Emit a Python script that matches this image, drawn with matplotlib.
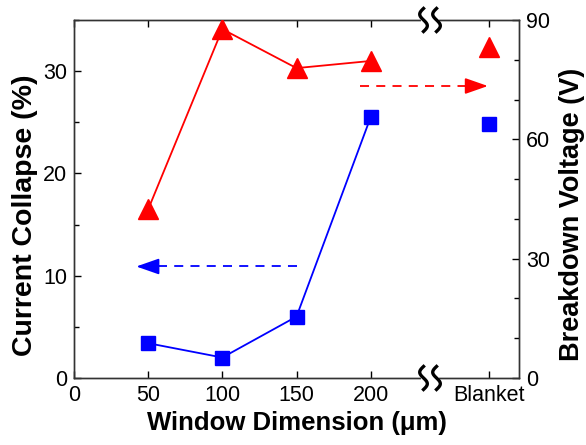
import numpy as np
import matplotlib.pyplot as plt
from matplotlib.transforms import IdentityTransform
from matplotlib.ticker import MultipleLocator

plt.rcParams['font.family'] = ['Liberation Sans', 'DejaVu Sans']

# data
x_pos = [50, 100, 150, 200, 280]
x_labels = ['50', '100', '150', '200', 'Blanket']
collapse = [3.4, 2.0, 6.0, 25.5, 24.8]        # %, left axis
breakdown = [42.4, 87.7, 77.9, 79.7, 83.2]    # V, right axis
n_line = 4  # first four points are joined, Blanket stands alone

# arrows pointing to each axis
blue_arrow = [(150, 10.9), (42, 10.9)]
red_arrow = [(193, 73.4), (279, 73.4)]
x_break = 240

fig = plt.figure(figsize=(5.86, 4.45), dpi=100)
ax = fig.add_axes([0.1263, 0.1506, 0.7594, 0.8045])
ax2 = ax.twinx()

# current collapse (blue squares)
ax.plot(x_pos[:n_line], collapse[:n_line], color='blue', lw=1.3, zorder=3)
ax.plot(x_pos, collapse, 's', color='blue', ms=10.5, lw=0, zorder=4)

# breakdown voltage (red triangles)
ax2.plot(x_pos[:n_line], breakdown[:n_line], color='red', lw=1.3, zorder=3)
ax2.plot(x_pos, breakdown, '^', color='red', ms=14, lw=0, zorder=4)

def dashed_arrow(axis, pts, col):
    (x0, y0), (x1, y1) = pts
    head = 10 if x1 > x0 else -10
    axis.plot([x0, x1 - head], [y0, y1], '--', color=col, lw=1.3, dashes=(5, 4))
    axis.annotate('', xy=(x1, y1), xytext=(x1 - head, y1),
                  arrowprops=dict(arrowstyle='-|>,head_length=1.0,head_width=0.35',
                                  color=col, lw=1.3, mutation_scale=14,
                                  shrinkA=0, shrinkB=0))

dashed_arrow(ax, blue_arrow, 'blue')
dashed_arrow(ax2, red_arrow, 'red')

ax.set_xlim(0, 300)
ax.set_ylim(0, 35)
ax2.set_ylim(0, 90)

ax.set_xticks([0] + x_pos)
ax.set_xticklabels(['0'] + x_labels)
ax.yaxis.set_major_locator(MultipleLocator(10))
ax.yaxis.set_minor_locator(MultipleLocator(5))
ax2.yaxis.set_major_locator(MultipleLocator(30))
ax2.yaxis.set_minor_locator(MultipleLocator(10))

ax.tick_params(axis='x', which='both', direction='in', top=True, length=5,
               width=1, labelsize=15.5, pad=5)
ax.tick_params(axis='y', which='major', direction='in', length=5, width=1,
               labelsize=15.5, pad=5)
ax.tick_params(axis='y', which='minor', direction='in', length=3.5, width=1)
ax2.tick_params(axis='y', which='major', direction='in', length=5, width=1,
                labelsize=15.5, pad=5)
ax2.tick_params(axis='y', which='minor', direction='in', length=3.5, width=1)

for a in (ax, ax2):
    for s in a.spines.values():
        s.set_color('#333333')
        s.set_linewidth(1)

ax.set_xlabel('Window Dimension (\u03bcm)', fontsize=18.5, fontweight='bold', labelpad=4)
ax.set_ylabel('Current Collapse (%)', fontsize=20.5, fontweight='bold')
ax2.set_ylabel('Breakdown Voltage (V)', fontsize=19.5, fontweight='bold')
ax.yaxis.set_label_coords(-0.08, 0.455)
ax2.yaxis.set_label_coords(1.09, 0.458)

# axis break marks on top and bottom spines
fig.canvas.draw()
for yv in (0, 35):
    px, py = ax.transData.transform((x_break, yv))
    ax2.add_line(plt.Line2D([px - 7, px + 7], [py, py], color='white', lw=3,
                            transform=IdentityTransform(), clip_on=False, zorder=6))
    t = np.linspace(-np.pi, np.pi, 40)
    for dx in (-6.5, 6.5):
        ax2.add_line(plt.Line2D(px + dx - 3.8 * np.sin(t), py + 11.5 * t / np.pi,
                                color='black', lw=2.4, transform=IdentityTransform(),
                                clip_on=False, zorder=7))

fig.savefig('out.png', dpi=100)
